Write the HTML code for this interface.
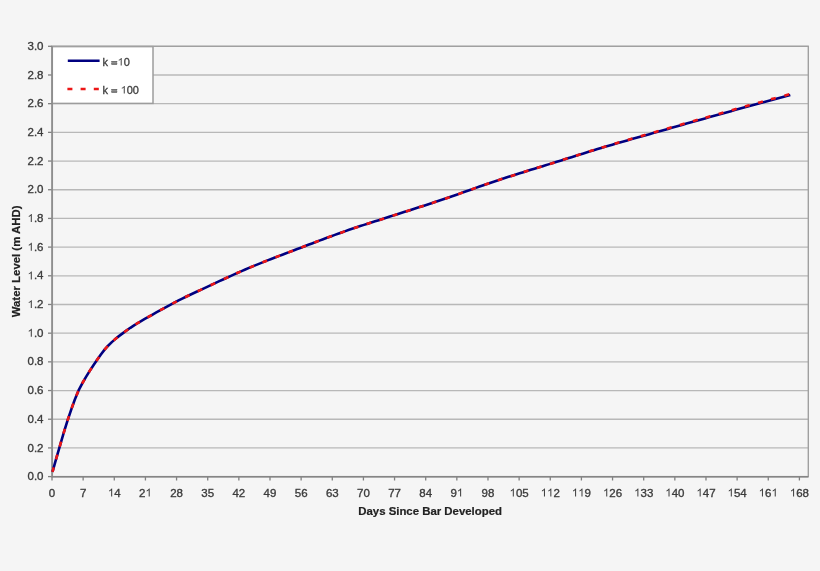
<!DOCTYPE html>
<html><head><meta charset="utf-8"><style>
html,body{margin:0;padding:0;background:#f5f5f5;}
body{width:820px;height:571px;overflow:hidden;}
svg{display:block;font-family:"Liberation Sans",sans-serif;}
</style></head><body>
<svg width="820" height="571" viewBox="0 0 820 571">
<defs><filter id="bl" x="0" y="0" width="820" height="571" filterUnits="userSpaceOnUse"><feGaussianBlur stdDeviation="0.5"/></filter></defs>
<g filter="url(#bl)">
<rect x="0" y="0" width="820" height="571" fill="#f5f5f5"/>
<line x1="52.0" y1="476.60" x2="808.3" y2="476.60" stroke="#b8b8b8" stroke-width="1.3"/>
<line x1="52.0" y1="447.91" x2="808.3" y2="447.91" stroke="#b8b8b8" stroke-width="1.3"/>
<line x1="52.0" y1="419.23" x2="808.3" y2="419.23" stroke="#b8b8b8" stroke-width="1.3"/>
<line x1="52.0" y1="390.54" x2="808.3" y2="390.54" stroke="#b8b8b8" stroke-width="1.3"/>
<line x1="52.0" y1="361.85" x2="808.3" y2="361.85" stroke="#b8b8b8" stroke-width="1.3"/>
<line x1="52.0" y1="333.17" x2="808.3" y2="333.17" stroke="#b8b8b8" stroke-width="1.3"/>
<line x1="52.0" y1="304.48" x2="808.3" y2="304.48" stroke="#b8b8b8" stroke-width="1.3"/>
<line x1="52.0" y1="275.79" x2="808.3" y2="275.79" stroke="#b8b8b8" stroke-width="1.3"/>
<line x1="52.0" y1="247.11" x2="808.3" y2="247.11" stroke="#b8b8b8" stroke-width="1.3"/>
<line x1="52.0" y1="218.42" x2="808.3" y2="218.42" stroke="#b8b8b8" stroke-width="1.3"/>
<line x1="52.0" y1="189.73" x2="808.3" y2="189.73" stroke="#b8b8b8" stroke-width="1.3"/>
<line x1="52.0" y1="161.05" x2="808.3" y2="161.05" stroke="#b8b8b8" stroke-width="1.3"/>
<line x1="52.0" y1="132.36" x2="808.3" y2="132.36" stroke="#b8b8b8" stroke-width="1.3"/>
<line x1="52.0" y1="103.67" x2="808.3" y2="103.67" stroke="#b8b8b8" stroke-width="1.3"/>
<line x1="52.0" y1="74.99" x2="808.3" y2="74.99" stroke="#b8b8b8" stroke-width="1.3"/>
<line x1="52.0" y1="46.30" x2="808.3" y2="46.30" stroke="#b8b8b8" stroke-width="1.3"/>

<rect x="52.0" y="46.6" width="101" height="56.8" fill="#ffffff" stroke="#9c9c9c" stroke-width="1.5"/>
<rect x="52.0" y="46.3" width="756.30" height="430.30" fill="none" stroke="#a0a0a0" stroke-width="1.4"/>
<g font-size="11.5" fill="#3c3c3c" stroke="#3c3c3c" stroke-width="0.35">
<text x="27.51" y="480.20">0.0</text>
<line x1="48" y1="476.60" x2="52.0" y2="476.60" stroke="#808080" stroke-width="1.3"/>
<text x="27.51" y="451.51">0.2</text>
<line x1="48" y1="447.91" x2="52.0" y2="447.91" stroke="#808080" stroke-width="1.3"/>
<text x="27.51" y="422.83">0.4</text>
<line x1="48" y1="419.23" x2="52.0" y2="419.23" stroke="#808080" stroke-width="1.3"/>
<text x="27.51" y="394.14">0.6</text>
<line x1="48" y1="390.54" x2="52.0" y2="390.54" stroke="#808080" stroke-width="1.3"/>
<text x="27.51" y="365.45">0.8</text>
<line x1="48" y1="361.85" x2="52.0" y2="361.85" stroke="#808080" stroke-width="1.3"/>
<path transform="translate(27.513,336.767) scale(0.005615,-0.005615)" d="M763 0H583V1100Q518 1040 412 985T222 895V1062Q375 1131 489 1228T651 1409H763Z"/><text x="33.91" y="336.77">.0</text>
<line x1="48" y1="333.17" x2="52.0" y2="333.17" stroke="#808080" stroke-width="1.3"/>
<path transform="translate(27.513,308.080) scale(0.005615,-0.005615)" d="M763 0H583V1100Q518 1040 412 985T222 895V1062Q375 1131 489 1228T651 1409H763Z"/><text x="33.91" y="308.08">.2</text>
<line x1="48" y1="304.48" x2="52.0" y2="304.48" stroke="#808080" stroke-width="1.3"/>
<path transform="translate(27.513,279.393) scale(0.005615,-0.005615)" d="M763 0H583V1100Q518 1040 412 985T222 895V1062Q375 1131 489 1228T651 1409H763Z"/><text x="33.91" y="279.39">.4</text>
<line x1="48" y1="275.79" x2="52.0" y2="275.79" stroke="#808080" stroke-width="1.3"/>
<path transform="translate(27.513,250.707) scale(0.005615,-0.005615)" d="M763 0H583V1100Q518 1040 412 985T222 895V1062Q375 1131 489 1228T651 1409H763Z"/><text x="33.91" y="250.71">.6</text>
<line x1="48" y1="247.11" x2="52.0" y2="247.11" stroke="#808080" stroke-width="1.3"/>
<path transform="translate(27.513,222.020) scale(0.005615,-0.005615)" d="M763 0H583V1100Q518 1040 412 985T222 895V1062Q375 1131 489 1228T651 1409H763Z"/><text x="33.91" y="222.02">.8</text>
<line x1="48" y1="218.42" x2="52.0" y2="218.42" stroke="#808080" stroke-width="1.3"/>
<text x="27.51" y="193.33">2.0</text>
<line x1="48" y1="189.73" x2="52.0" y2="189.73" stroke="#808080" stroke-width="1.3"/>
<text x="27.51" y="164.65">2.2</text>
<line x1="48" y1="161.05" x2="52.0" y2="161.05" stroke="#808080" stroke-width="1.3"/>
<text x="27.51" y="135.96">2.4</text>
<line x1="48" y1="132.36" x2="52.0" y2="132.36" stroke="#808080" stroke-width="1.3"/>
<text x="27.51" y="107.27">2.6</text>
<line x1="48" y1="103.67" x2="52.0" y2="103.67" stroke="#808080" stroke-width="1.3"/>
<text x="27.51" y="78.59">2.8</text>
<line x1="48" y1="74.99" x2="52.0" y2="74.99" stroke="#808080" stroke-width="1.3"/>
<text x="27.51" y="49.90">3.0</text>
<line x1="48" y1="46.30" x2="52.0" y2="46.30" stroke="#808080" stroke-width="1.3"/>

<text x="48.80" y="496.50">0</text>
<line x1="52.00" y1="476.6" x2="52.00" y2="480.5" stroke="#808080" stroke-width="1.3"/>
<text x="79.94" y="496.50">7</text>
<line x1="83.14" y1="476.6" x2="83.14" y2="480.5" stroke="#808080" stroke-width="1.3"/>
<path transform="translate(107.888,496.500) scale(0.005615,-0.005615)" d="M763 0H583V1100Q518 1040 412 985T222 895V1062Q375 1131 489 1228T651 1409H763Z"/><text x="114.28" y="496.50">4</text>
<line x1="114.28" y1="476.6" x2="114.28" y2="480.5" stroke="#808080" stroke-width="1.3"/>
<text x="139.03" y="496.50">2</text><path transform="translate(145.425,496.500) scale(0.005615,-0.005615)" d="M763 0H583V1100Q518 1040 412 985T222 895V1062Q375 1131 489 1228T651 1409H763Z"/>
<line x1="145.43" y1="476.6" x2="145.43" y2="480.5" stroke="#808080" stroke-width="1.3"/>
<text x="170.17" y="496.50">28</text>
<line x1="176.57" y1="476.6" x2="176.57" y2="480.5" stroke="#808080" stroke-width="1.3"/>
<text x="201.31" y="496.50">35</text>
<line x1="207.71" y1="476.6" x2="207.71" y2="480.5" stroke="#808080" stroke-width="1.3"/>
<text x="232.45" y="496.50">42</text>
<line x1="238.85" y1="476.6" x2="238.85" y2="480.5" stroke="#808080" stroke-width="1.3"/>
<text x="263.60" y="496.50">49</text>
<line x1="269.99" y1="476.6" x2="269.99" y2="480.5" stroke="#808080" stroke-width="1.3"/>
<text x="294.74" y="496.50">56</text>
<line x1="301.13" y1="476.6" x2="301.13" y2="480.5" stroke="#808080" stroke-width="1.3"/>
<text x="325.88" y="496.50">63</text>
<line x1="332.28" y1="476.6" x2="332.28" y2="480.5" stroke="#808080" stroke-width="1.3"/>
<text x="357.02" y="496.50">70</text>
<line x1="363.42" y1="476.6" x2="363.42" y2="480.5" stroke="#808080" stroke-width="1.3"/>
<text x="388.16" y="496.50">77</text>
<line x1="394.56" y1="476.6" x2="394.56" y2="480.5" stroke="#808080" stroke-width="1.3"/>
<text x="419.31" y="496.50">84</text>
<line x1="425.70" y1="476.6" x2="425.70" y2="480.5" stroke="#808080" stroke-width="1.3"/>
<text x="450.45" y="496.50">9</text><path transform="translate(456.843,496.500) scale(0.005615,-0.005615)" d="M763 0H583V1100Q518 1040 412 985T222 895V1062Q375 1131 489 1228T651 1409H763Z"/>
<line x1="456.84" y1="476.6" x2="456.84" y2="480.5" stroke="#808080" stroke-width="1.3"/>
<text x="481.59" y="496.50">98</text>
<line x1="487.98" y1="476.6" x2="487.98" y2="480.5" stroke="#808080" stroke-width="1.3"/>
<path transform="translate(509.533,496.500) scale(0.005615,-0.005615)" d="M763 0H583V1100Q518 1040 412 985T222 895V1062Q375 1131 489 1228T651 1409H763Z"/><text x="515.93" y="496.50">05</text>
<line x1="519.13" y1="476.6" x2="519.13" y2="480.5" stroke="#808080" stroke-width="1.3"/>
<path transform="translate(540.675,496.500) scale(0.005615,-0.005615)" d="M763 0H583V1100Q518 1040 412 985T222 895V1062Q375 1131 489 1228T651 1409H763Z"/><path transform="translate(547.070,496.500) scale(0.005615,-0.005615)" d="M763 0H583V1100Q518 1040 412 985T222 895V1062Q375 1131 489 1228T651 1409H763Z"/><text x="553.47" y="496.50">2</text>
<line x1="550.27" y1="476.6" x2="550.27" y2="480.5" stroke="#808080" stroke-width="1.3"/>
<path transform="translate(571.816,496.500) scale(0.005615,-0.005615)" d="M763 0H583V1100Q518 1040 412 985T222 895V1062Q375 1131 489 1228T651 1409H763Z"/><path transform="translate(578.212,496.500) scale(0.005615,-0.005615)" d="M763 0H583V1100Q518 1040 412 985T222 895V1062Q375 1131 489 1228T651 1409H763Z"/><text x="584.61" y="496.50">9</text>
<line x1="581.41" y1="476.6" x2="581.41" y2="480.5" stroke="#808080" stroke-width="1.3"/>
<path transform="translate(602.958,496.500) scale(0.005615,-0.005615)" d="M763 0H583V1100Q518 1040 412 985T222 895V1062Q375 1131 489 1228T651 1409H763Z"/><text x="609.35" y="496.50">26</text>
<line x1="612.55" y1="476.6" x2="612.55" y2="480.5" stroke="#808080" stroke-width="1.3"/>
<path transform="translate(634.100,496.500) scale(0.005615,-0.005615)" d="M763 0H583V1100Q518 1040 412 985T222 895V1062Q375 1131 489 1228T651 1409H763Z"/><text x="640.50" y="496.50">33</text>
<line x1="643.69" y1="476.6" x2="643.69" y2="480.5" stroke="#808080" stroke-width="1.3"/>
<path transform="translate(665.242,496.500) scale(0.005615,-0.005615)" d="M763 0H583V1100Q518 1040 412 985T222 895V1062Q375 1131 489 1228T651 1409H763Z"/><text x="671.64" y="496.50">40</text>
<line x1="674.84" y1="476.6" x2="674.84" y2="480.5" stroke="#808080" stroke-width="1.3"/>
<path transform="translate(696.383,496.500) scale(0.005615,-0.005615)" d="M763 0H583V1100Q518 1040 412 985T222 895V1062Q375 1131 489 1228T651 1409H763Z"/><text x="702.78" y="496.50">47</text>
<line x1="705.98" y1="476.6" x2="705.98" y2="480.5" stroke="#808080" stroke-width="1.3"/>
<path transform="translate(727.525,496.500) scale(0.005615,-0.005615)" d="M763 0H583V1100Q518 1040 412 985T222 895V1062Q375 1131 489 1228T651 1409H763Z"/><text x="733.92" y="496.50">54</text>
<line x1="737.12" y1="476.6" x2="737.12" y2="480.5" stroke="#808080" stroke-width="1.3"/>
<path transform="translate(758.667,496.500) scale(0.005615,-0.005615)" d="M763 0H583V1100Q518 1040 412 985T222 895V1062Q375 1131 489 1228T651 1409H763Z"/><text x="765.06" y="496.50">6</text><path transform="translate(771.458,496.500) scale(0.005615,-0.005615)" d="M763 0H583V1100Q518 1040 412 985T222 895V1062Q375 1131 489 1228T651 1409H763Z"/>
<line x1="768.26" y1="476.6" x2="768.26" y2="480.5" stroke="#808080" stroke-width="1.3"/>
<path transform="translate(789.809,496.500) scale(0.005615,-0.005615)" d="M763 0H583V1100Q518 1040 412 985T222 895V1062Q375 1131 489 1228T651 1409H763Z"/><text x="796.20" y="496.50">68</text>
<line x1="799.40" y1="476.6" x2="799.40" y2="480.5" stroke="#808080" stroke-width="1.3"/>

</g>
<line x1="52.2" y1="46.3" x2="52.2" y2="477.40000000000003" stroke="#8e8e8e" stroke-width="1.7"/>
<line x1="52.0" y1="476.8" x2="808.3" y2="476.8" stroke="#858585" stroke-width="1.6"/>
<path d="M52.50,471.90 L56.21,458.69 L59.92,445.84 L63.62,433.12 L67.33,421.12 L71.04,410.08 L74.75,399.72 L78.45,390.72 L82.16,383.53 L85.87,377.17 L89.58,371.15 L93.28,365.45 L96.99,360.02 L100.70,354.73 L104.41,349.87 L108.11,345.73 L111.82,342.13 L115.53,338.86 L119.24,335.88 L122.94,333.12 L126.65,330.42 L130.36,327.81 L134.07,325.34 L137.77,323.02 L141.48,320.82 L145.19,318.71 L148.90,316.62 L152.60,314.53 L156.31,312.45 L160.02,310.38 L163.73,308.32 L167.43,306.30 L171.14,304.30 L174.85,302.35 L178.56,300.43 L182.26,298.57 L185.97,296.77 L189.68,295.00 L193.39,293.27 L197.09,291.55 L200.80,289.83 L204.51,288.10 L208.22,286.36 L211.92,284.63 L215.63,282.90 L219.34,281.18 L223.05,279.46 L226.75,277.76 L230.46,276.07 L234.17,274.39 L237.88,272.74 L241.58,271.11 L245.29,269.50 L249.00,267.92 L252.71,266.37 L256.41,264.85 L260.12,263.35 L263.83,261.86 L267.54,260.40 L271.24,258.95 L274.95,257.52 L278.66,256.10 L282.37,254.68 L286.07,253.27 L289.78,251.87 L293.49,250.47 L297.20,249.06 L300.91,247.66 L304.61,246.25 L308.32,244.84 L312.03,243.43 L315.74,242.02 L319.44,240.62 L323.15,239.22 L326.86,237.84 L330.57,236.46 L334.27,235.10 L337.98,233.75 L341.69,232.42 L345.40,231.10 L349.10,229.81 L352.81,228.54 L356.52,227.30 L360.23,226.08 L363.93,224.88 L367.64,223.69 L371.35,222.50 L375.06,221.32 L378.76,220.14 L382.47,218.95 L386.18,217.76 L389.89,216.56 L393.59,215.37 L397.30,214.19 L401.01,213.01 L404.72,211.82 L408.42,210.64 L412.13,209.46 L415.84,208.27 L419.55,207.09 L423.25,205.89 L426.96,204.69 L430.67,203.48 L434.38,202.27 L438.08,201.04 L441.79,199.80 L445.50,198.54 L449.21,197.27 L452.91,195.99 L456.62,194.69 L460.33,193.39 L464.04,192.08 L467.74,190.76 L471.45,189.45 L475.16,188.14 L478.87,186.83 L482.57,185.53 L486.28,184.24 L489.99,182.97 L493.70,181.70 L497.40,180.46 L501.11,179.23 L504.82,178.03 L508.53,176.83 L512.23,175.64 L515.94,174.47 L519.65,173.30 L523.36,172.14 L527.06,170.99 L530.77,169.84 L534.48,168.69 L538.19,167.55 L541.89,166.41 L545.60,165.27 L549.31,164.12 L553.02,162.97 L556.73,161.82 L560.43,160.66 L564.14,159.50 L567.85,158.33 L571.56,157.16 L575.26,155.98 L578.97,154.81 L582.68,153.64 L586.39,152.48 L590.09,151.32 L593.80,150.18 L597.51,149.05 L601.22,147.94 L604.92,146.84 L608.63,145.75 L612.34,144.67 L616.05,143.59 L619.75,142.53 L623.46,141.47 L627.17,140.42 L630.88,139.37 L634.58,138.33 L638.29,137.28 L642.00,136.24 L645.71,135.19 L649.41,134.15 L653.12,133.10 L656.83,132.05 L660.54,130.99 L664.24,129.94 L667.95,128.88 L671.66,127.82 L675.37,126.77 L679.07,125.72 L682.78,124.66 L686.49,123.61 L690.20,122.56 L693.90,121.52 L697.61,120.47 L701.32,119.43 L705.03,118.39 L708.73,117.35 L712.44,116.31 L716.15,115.27 L719.86,114.23 L723.56,113.20 L727.27,112.16 L730.98,111.13 L734.69,110.10 L738.39,109.07 L742.10,108.05 L745.81,107.03 L749.52,106.00 L753.22,104.99 L756.93,103.97 L760.64,102.96 L764.35,101.96 L768.05,100.95 L771.76,99.95 L775.47,98.96 L779.18,97.96 L782.88,96.97 L786.59,95.99 L790.30,95.00" fill="none" stroke="#000080" stroke-width="2.6" stroke-linejoin="round"/>
<path d="M52.50,471.90 L52.91,470.41 L53.33,468.92 L53.74,467.43 M56.01,459.38 L56.47,457.78 L56.93,456.17 L57.38,454.57 M59.71,446.54 L60.18,444.94 L60.64,443.33 L61.11,441.73 M63.45,433.70 L63.92,432.10 L64.40,430.51 L64.88,428.91 M67.39,420.93 L67.92,419.35 L68.44,417.77 L68.97,416.19 M71.66,408.26 L72.21,406.69 L72.77,405.12 L73.33,403.55 M76.31,395.73 L76.94,394.19 L77.59,392.66 L78.27,391.13 M82.07,383.68 L82.90,382.24 L83.74,380.80 L84.58,379.36 M88.91,372.20 L89.80,370.79 L90.70,369.39 L91.61,367.99 M96.28,361.05 L97.23,359.68 L98.17,358.31 L99.13,356.94 M104.38,349.90 L105.45,348.63 L106.56,347.38 L107.70,346.16 M113.71,340.44 L114.97,339.34 L116.24,338.26 L117.53,337.21 M124.18,332.22 L125.52,331.23 L126.88,330.26 L128.24,329.29 M135.53,324.40 L136.94,323.52 L138.37,322.66 L139.80,321.81 M147.42,317.45 L148.87,316.63 L150.33,315.82 L151.78,315.00 M159.84,310.48 L161.30,309.67 L162.76,308.86 L164.22,308.06 M172.35,303.66 L173.82,302.88 L175.30,302.11 L176.78,301.34 M185.05,297.21 L186.55,296.49 L188.05,295.77 L189.56,295.06 M197.63,291.30 L199.14,290.60 L200.66,289.89 L202.17,289.19 M210.63,285.23 L212.14,284.53 L213.66,283.82 L215.17,283.12 M223.83,279.10 L225.34,278.40 L226.86,277.71 L228.37,277.02 M236.22,273.48 L237.74,272.80 L239.26,272.13 L240.79,271.45 M249.59,267.67 L251.13,267.03 L252.67,266.39 L254.21,265.75 M262.45,262.41 L264.00,261.80 L265.55,261.18 L267.10,260.57 M275.38,257.35 L276.94,256.76 L278.50,256.16 L280.05,255.56 M288.36,252.41 L289.92,251.82 L291.48,251.23 L293.04,250.64 M301.36,247.48 L302.92,246.89 L304.48,246.30 L306.04,245.70 M314.27,242.58 L315.82,241.99 L317.38,241.40 L318.94,240.81 M327.18,237.71 L328.75,237.13 L330.31,236.56 L331.87,235.98 M340.15,232.97 L341.72,232.41 L343.29,231.85 L344.86,231.29 M353.73,228.23 L355.31,227.70 L356.89,227.17 L358.47,226.65 M366.56,224.03 L368.15,223.52 L369.73,223.02 L371.32,222.51 M379.42,219.93 L381.01,219.43 L382.59,218.92 L384.18,218.40 M392.60,215.69 L394.19,215.18 L395.77,214.68 L397.36,214.17 M405.82,211.47 L407.41,210.97 L408.99,210.46 L410.58,209.95 M418.92,207.29 L420.51,206.78 L422.09,206.27 L423.68,205.75 M431.72,203.14 L433.31,202.62 L434.89,202.10 L436.47,201.57 M444.95,198.73 L446.53,198.19 L448.11,197.65 L449.68,197.11 M458.13,194.16 L459.70,193.61 L461.27,193.05 L462.84,192.50 M471.27,189.51 L472.85,188.96 L474.42,188.40 L475.99,187.85 M484.43,184.89 L486.00,184.34 L487.58,183.80 L489.15,183.25 M497.63,180.39 L499.21,179.86 L500.79,179.34 L502.38,178.82 M510.64,176.15 L512.23,175.64 L513.82,175.14 L515.41,174.64 M523.69,172.04 L525.28,171.54 L526.87,171.05 L528.47,170.55 M536.76,167.99 L538.36,167.50 L539.95,167.01 L541.54,166.52 M549.84,163.96 L551.43,163.46 L553.03,162.96 L554.62,162.46 M562.91,159.84 L564.50,159.33 L566.09,158.82 L567.68,158.31 M575.96,155.66 L577.55,155.15 L579.13,154.64 L580.72,154.13 M589.01,151.50 L590.60,151.00 L592.20,150.50 L593.79,150.01 M601.60,147.61 L603.20,147.13 L604.80,146.65 L606.40,146.18 M614.62,143.75 L616.22,143.28 L617.82,142.81 L619.42,142.35 M627.66,139.97 L629.26,139.51 L630.86,139.05 L632.47,138.59 M640.71,136.24 L642.31,135.78 L643.92,135.32 L645.52,134.86 M653.76,132.50 L655.36,132.04 L656.97,131.58 L658.57,131.12 M666.80,128.74 L668.41,128.28 L670.01,127.81 L671.61,127.35 M679.85,124.98 L681.45,124.52 L683.05,124.05 L684.66,123.59 M692.89,121.23 L694.50,120.77 L696.10,120.31 L697.71,119.85 M705.49,117.64 L707.10,117.18 L708.70,116.72 L710.31,116.27 M718.62,113.90 L720.23,113.45 L721.83,112.99 L723.44,112.54 M731.75,110.19 L733.36,109.74 L734.96,109.29 L736.57,108.83 M744.89,106.50 L746.50,106.05 L748.10,105.60 L749.71,105.15 M758.09,102.83 L759.70,102.38 L761.30,101.94 L762.91,101.49 M770.89,99.31 L772.50,98.87 L774.10,98.43 L775.71,97.99 M784.38,95.64 L785.99,95.20 L787.61,94.77 L789.22,94.33 " fill="none" stroke="#ec1414" stroke-width="2.6"/>
<line x1="67.8" y1="60.8" x2="99.6" y2="60.8" stroke="#000080" stroke-width="2.6"/>
<line x1="67.4" y1="89" x2="100" y2="89" stroke="#ec1414" stroke-width="2.6" stroke-dasharray="5 8.2"/>
<g font-size="11" fill="#3c3c3c" stroke="#3c3c3c" stroke-width="0.3">
<text x="102.60" y="65.50">k </text><rect x="111.72" y="61.40" width="5.3" height="1.0"/><rect x="111.72" y="63.50" width="5.3" height="1.0"/><path transform="translate(117.580,65.500) scale(0.005371,-0.005371)" d="M763 0H583V1100Q518 1040 412 985T222 895V1062Q375 1131 489 1228T651 1409H763Z"/><text x="123.70" y="65.50">0</text>

<text x="102.60" y="93.50">k </text><rect x="111.72" y="89.40" width="5.3" height="1.0"/><rect x="111.72" y="91.50" width="5.3" height="1.0"/><path transform="translate(120.636,93.500) scale(0.005371,-0.005371)" d="M763 0H583V1100Q518 1040 412 985T222 895V1062Q375 1131 489 1228T651 1409H763Z"/><text x="126.75" y="93.50">00</text>

</g>
<text x="430.1" y="515.3" text-anchor="middle" font-size="11.4" font-weight="bold" fill="#222" stroke="#222" stroke-width="0.2">Days Since Bar Developed</text>
<text transform="translate(19.5,261.4) rotate(-90)" text-anchor="middle" font-size="11.4" font-weight="bold" fill="#222" stroke="#222" stroke-width="0.2">Water Level (m AHD)</text>
</g>
</svg>
</body></html>
